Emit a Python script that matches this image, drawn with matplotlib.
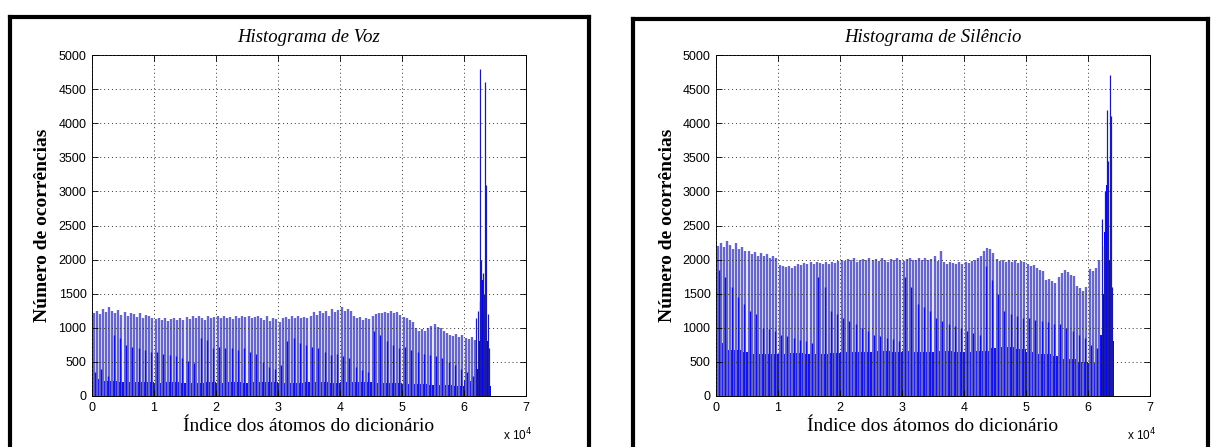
import numpy as np
import matplotlib
matplotlib.use('Agg')
from matplotlib import pyplot as plt
from matplotlib.lines import Line2D

# histograma de voz : picos altos (a cada 500 indices), picos medios (a cada 1000), base (a cada 2000)
voz_altos = [1220, 1250, 1200, 1270, 1230, 1300, 1240, 1210, 1260, 1190,
             1230, 1180, 1210, 1200, 1160, 1220, 1150, 1190, 1170, 1140,
             1130, 1150, 1120, 1140, 1100, 1130, 1150, 1110, 1140, 1120,
             1160, 1130, 1170, 1140, 1180, 1150, 1120, 1170, 1140, 1160,
             1170, 1150, 1180, 1140, 1160, 1130, 1170, 1150, 1180, 1160,
             1170, 1140, 1160, 1180, 1150, 1120, 1170, 1100, 1150, 1130,
             1090, 1140, 1160, 1130, 1170, 1150, 1180, 1140, 1160, 1150,
             1170, 1230, 1190, 1240, 1210, 1250, 1180, 1270, 1230, 1260,
             1300, 1240, 1280, 1250, 1170, 1140, 1160, 1120, 1150, 1130,
             1180, 1200, 1220, 1210, 1230, 1220, 1240, 1210, 1230, 1190,
             1160, 1140, 1110, 1080, 990, 960, 980, 950, 1000, 1030,
             1050, 1010, 990, 950, 920, 900, 880, 910, 870, 890,
             850, 830, 860, 820]
voz_medios = [350, 400, 300, 900, 850, 750, 720, 700, 680, 650,
              650, 620, 600, 580, 560, 520, 480, 850, 820, 700,
              720, 700, 710, 680, 700, 650, 620, 500, 420, 400,
              450, 800, 850, 780, 750, 720, 700, 650, 600, 620,
              580, 560, 420, 380, 350, 950, 900, 800, 750, 700,
              720, 680, 650, 620, 600, 580, 550, 500, 450, 400,
              350, 300]
voz_base = [250, 220, 210, 200, 200, 190, 200, 190, 190, 200,
            190, 200, 190, 200, 200, 190, 190, 200, 200, 190,
            200, 210, 200, 190, 190, 180, 170, 160, 160, 150, 220]
voz_pico_pos = [62000, 62300, 62500, 62600, 62800, 63000, 63200, 63400, 63600, 63800, 64000]
voz_pico_alt = [1150, 1250, 1400, 4800, 2000, 1800, 1500, 4600, 3100, 1200, 700]
voz_cheio_pos = [62100, 62400, 62700, 63000, 63300, 63600, 63900, 64150]
voz_cheio_alt = [400, 800, 1200, 1700, 1300, 1100, 800, 150]

# histograma de silencio
sil_altos = [2200, 2250, 2180, 2270, 2210, 2160, 2240, 2150, 2190, 2120,
             2130, 2080, 2110, 2060, 2100, 2050, 2080, 2030, 2060, 2020,
             1920, 1900, 1890, 1910, 1880, 1900, 1940, 1920, 1950, 1930,
             1960, 1940, 1970, 1950, 1930, 1960, 1940, 1970, 1950, 1980,
             2000, 1980, 2010, 1990, 2020, 1970, 2000, 2010, 1990, 2020,
             1990, 2010, 1980, 2020, 2000, 1970, 2010, 1990, 2020, 2000,
             1980, 2010, 2030, 1990, 2000, 2020, 1990, 2030, 2000, 2010,
             2050, 1980, 2120, 1960, 1940, 1970, 1950, 1930, 1960, 1940,
             1970, 1950, 1980, 2000, 2020, 2050, 2120, 2170, 2150, 2100,
             2010, 1980, 1990, 1970, 2000, 1960, 1990, 1950, 1980, 1960,
             1930, 1900, 1920, 1880, 1850, 1840, 1700, 1720, 1680, 1650,
             1740, 1800, 1850, 1820, 1780, 1760, 1620, 1580, 1540, 1600,
             1860, 1830, 1870, 2000]
sil_medios = [1850, 1750, 1600, 1450, 1350, 1250, 1200, 1000, 980, 950,
              900, 880, 850, 820, 800, 780, 1750, 1600, 1250, 1200,
              1150, 1100, 1050, 1000, 950, 900, 880, 850, 830, 800,
              1750, 1600, 1350, 1300, 1250, 1150, 1100, 1050, 1020, 1000,
              950, 920, 900, 1900, 1700, 1500, 1250, 1200, 1180, 1150,
              1150, 1120, 1100, 1080, 1060, 1050, 1000, 950, 900, 850,
              750, 700]
sil_base = [780, 680, 640, 620, 610, 620, 630, 620, 610, 630,
            640, 650, 640, 660, 650, 660, 640, 650, 660, 640,
            650, 660, 700, 720, 690, 650, 620, 580, 540, 500, 480]
sil_pico_pos = [62200, 62500, 62800, 63000, 63200, 63500, 63700, 63900]
sil_pico_alt = [2600, 2200, 3000, 4200, 3450, 4700, 4100, 1600]
sil_cheio_pos = [62100, 62400, 62700, 63000, 63300, 63600, 63900, 64100]
sil_cheio_alt = [900, 1500, 2400, 3100, 2000, 2000, 1000, 800]

titulos = ['Histograma de Voz', 'Histograma de Silêncio']
yticks = [0, 500, 1000, 1500, 2000, 2500, 3000, 3500, 4000, 4500, 5000]
xticks = [0, 1, 2, 3, 4, 5, 6, 7]

W, H = 1211, 447


def painel(ax, altos, medios, base, pico_pos, pico_alt, cheio_pos, cheio_alt, titulo):
  pos_altos = 250 + 500 * np.arange(len(altos))
  pos_medios = 500 + 1000 * np.arange(len(medios))
  pos_base = 1000 + 2000 * np.arange(len(base))
  ax.bar(pos_base, base, width=2000, color='#0000ff', linewidth=0)
  ax.vlines(pos_altos, 0, altos, color='#6666cc', lw=1.7)
  ax.vlines(pos_medios, 0, medios, color='#1010e0', lw=1.0)
  ax.bar(cheio_pos, cheio_alt, width=300, color='#0000ff', linewidth=0)
  ax.vlines(pico_pos, 0, pico_alt, color='#1a1ab0', lw=0.9)

  ax.set_xlim(0, 70000)
  ax.set_ylim(0, 5000)
  ax.set_xticks([v * 10000 for v in xticks])
  ax.set_xticklabels([str(v) for v in xticks])
  ax.set_yticks(yticks)
  ax.set_yticklabels([str(v) for v in yticks])
  ax.tick_params(direction='in', top=True, right=True, length=4, width=0.6,
                 labelsize=9, pad=4)
  for lab in ax.get_xticklabels() + ax.get_yticklabels():
    lab.set_family('Liberation Sans')
  ax.grid(True, color='#303030', linestyle=(0, (1, 3)), linewidth=0.7)
  ax.set_axisbelow(False)
  for s in ax.spines.values():
    s.set_linewidth(0.7)

  ax.text(0.5, 1.025, titulo, transform=ax.transAxes, ha='center', va='bottom',
          family='Liberation Serif', style='italic', fontsize=13.5)
  ax.set_xlabel('Índice dos átomos do dicionário', family='Liberation Serif',
                fontsize=14, labelpad=3)
  ax.set_ylabel('Número de ocorrências', family='Liberation Serif',
                fontsize=14, fontweight='bold', labelpad=5)
  ax.text(1.015, -0.09, r'x 10$^4$', transform=ax.transAxes, ha='right', va='top',
          family='Liberation Sans', fontsize=8.5)


def moldura(fig, x0, y0, x1):
  # bordas pretas grossas (sem linha de baixo)
  kw = dict(transform=fig.transFigure, color='k', lw=3, solid_capstyle='projecting')
  fig.add_artist(Line2D([x0 / W, x0 / W], [1 - y0 / H, -0.05], **kw))
  fig.add_artist(Line2D([x0 / W, x1 / W], [1 - y0 / H, 1 - y0 / H], **kw))
  fig.add_artist(Line2D([x1 / W, x1 / W], [1 - y0 / H, -0.05], **kw))


fig = plt.figure(figsize=(W / 100, H / 100), dpi=100)
ax1 = fig.add_axes([92 / W, 51 / H, 434 / W, 341 / H])
ax2 = fig.add_axes([716 / W, 51 / H, 434 / W, 341 / H])

painel(ax1, voz_altos, voz_medios, voz_base, voz_pico_pos, voz_pico_alt,
       voz_cheio_pos, voz_cheio_alt, titulos[0])
painel(ax2, sil_altos, sil_medios, sil_base, sil_pico_pos, sil_pico_alt,
       sil_cheio_pos, sil_cheio_alt, titulos[1])

moldura(fig, 10, 17, 589)
moldura(fig, 633, 19, 1208)

fig.savefig('out.png', dpi=100)
